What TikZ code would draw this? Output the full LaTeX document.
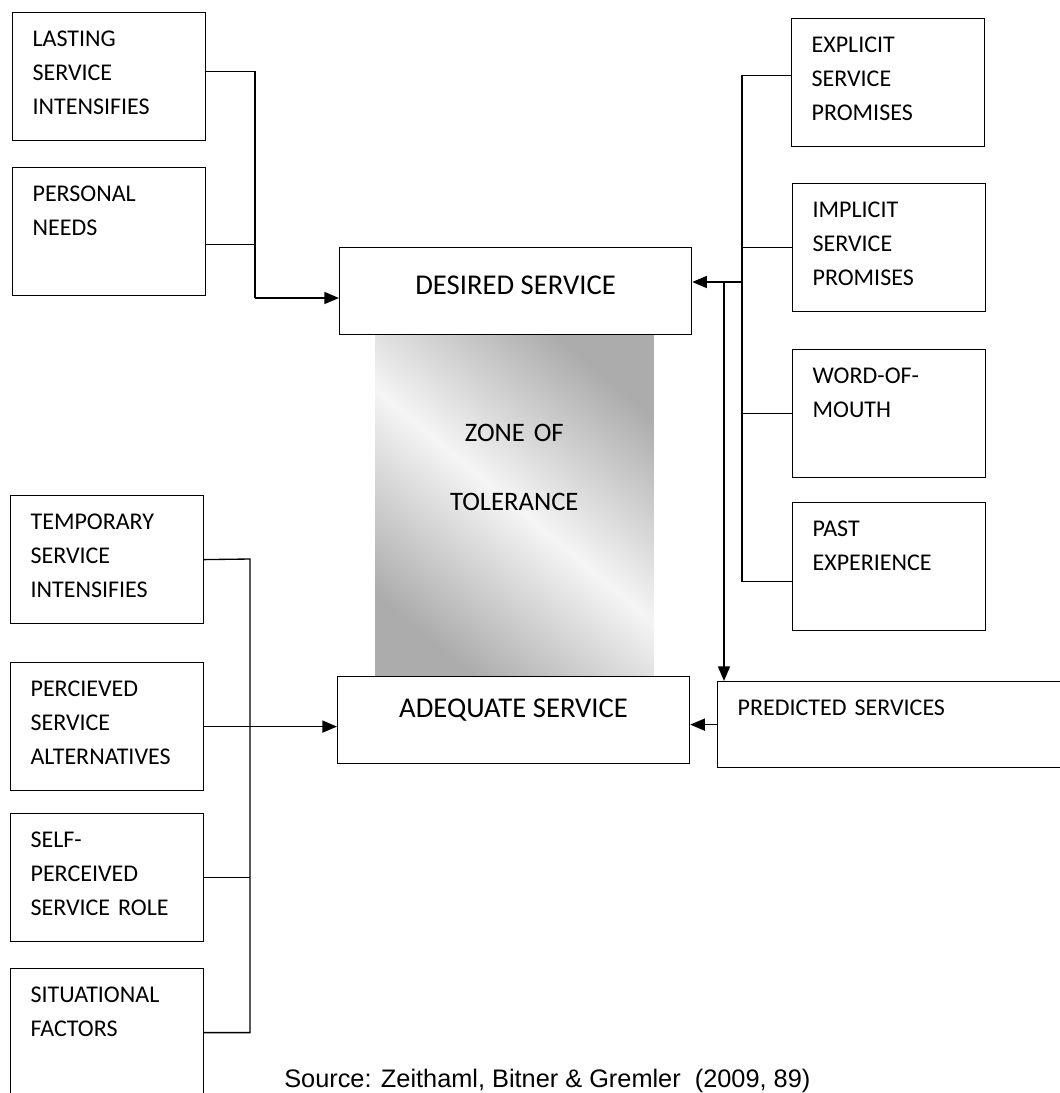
\documentclass[tikz,border=0pt]{standalone}
\usepackage{fontspec}
\setmainfont{Carlito}
\newfontfamily\arialfont{Liberation Sans}
\usetikzlibrary{arrows.meta}

\begin{document}
\begin{tikzpicture}[
    x=0.75pt, y=-0.75pt,
    factor/.style={draw, line width=0.9pt, anchor=north west, align=left,
      text width=114.75pt, inner xsep=15pt, inner ysep=0pt,
      text height=25.5pt, text depth=70.5pt,
      font=\fontsize{18}{25.5}\selectfont},
    mainbox/.style={draw, fill=white, line width=0.9pt, anchor=north west,
      minimum width=264pt, inner ysep=0pt,
      text height=35.25pt, text depth=30pt,
      font=\fontsize{21.5}{25.5}\selectfont},
    zone/.style={anchor=north west, inner sep=0pt, text width=208.5pt,
      align=center, text height=80.6pt, text depth=176.6pt,
      font=\fontsize{20}{51.75}\selectfont,
      shading=axis, top color=gray!65, bottom color=gray!65,
      middle color=gray!8, shading angle=-40},
    link/.style={line width=1pt},
    arr/.style={line width=1.2pt, -{Triangle[length=11pt,width=9pt]}}
    ]
    \fill[white] (0,0) rectangle (1060,1093);
    \useasboundingbox (0,0) rectangle (1060,1093);
    \clip (0,0) rectangle (1060,1093);

    \node[factor] (lasting) at (12,12) {LASTING\\SERVICE\\INTENSIFIES};
    \node[factor] (personal) at (12,167) {PERSONAL\\NEEDS};
    \node[factor] (temporary) at (10,495) {TEMPORARY\\SERVICE\\INTENSIFIES};
    \node[factor] (percieved) at (10,662) {PERCIEVED\\SERVICE\\ALTERNATIVES};
    \node[factor] (selfrole) at (10,813) {SELF-\\PERCEIVED\\SERVICE ROLE};
    \node[factor] (situational) at (10,968) {SITUATIONAL\\FACTORS};

    \node[factor] (explicit) at (791,18) {EXPLICIT\\SERVICE\\PROMISES};
    \node[factor] (implicit) at (792,183) {IMPLICIT\\SERVICE\\PROMISES};
    \node[factor] (wom) at (792,349) {WORD-OF-\\MOUTH};
    \node[factor] (past) at (792,502) {PAST\\EXPERIENCE};
    \node[factor, text width=270pt, text depth=39pt] (predicted) at (717,681) {PREDICTED SERVICES};

    \node[zone] (zone) at (375,334) {ZONE OF\\TOLERANCE};
    \node[mainbox] (desired) at (339,247) {DESIRED SERVICE};
    \node[mainbox, text height=30.75pt, text depth=34.5pt] (adequate) at (337,676) {ADEQUATE SERVICE};

    \coordinate (lbus) at (255,298);
    \coordinate (rbus) at (742,282);
    \coordinate (pjoin) at (724,282);
    \coordinate (sbus) at (250,559);

    \draw[link] ([yshift=3.75pt]lasting.east) -| (lbus);
    \draw[link] ([yshift=-9.75pt]personal.east) -| (lbus);
    \draw[arr] (lbus) -- (lbus -| desired.west);

    \draw[link] ([yshift=5.25pt]explicit.west) -| (rbus);
    \draw[link] ([yshift=-11.25pt]past.west) -| (rbus);
    \draw[link] (implicit.west) -- (implicit.west -| rbus);
    \draw[link] (wom.west) -- (wom.west -| rbus);
    \draw[arr] (rbus) -- (rbus -| desired.east);
    \draw[arr] (pjoin) -- (pjoin |- predicted.north);
    \draw[arr] (predicted.west) -- (predicted.west -| adequate.east);

    \draw[link] (temporary.east) -- (sbus) |- (situational.east);
    \draw[link] (selfrole.east) -- (selfrole.east -| sbus);
    \draw[arr] (percieved.east) -- (percieved.east -| adequate.west);

    \node[anchor=base west, inner sep=0pt, font=\arialfont\fontsize{19}{20}\selectfont] (source)
      at (284,1087) {Source: Zeithaml, Bitner \& Gremler~ (2009, 89)};
  \end{tikzpicture}
\end{document}
